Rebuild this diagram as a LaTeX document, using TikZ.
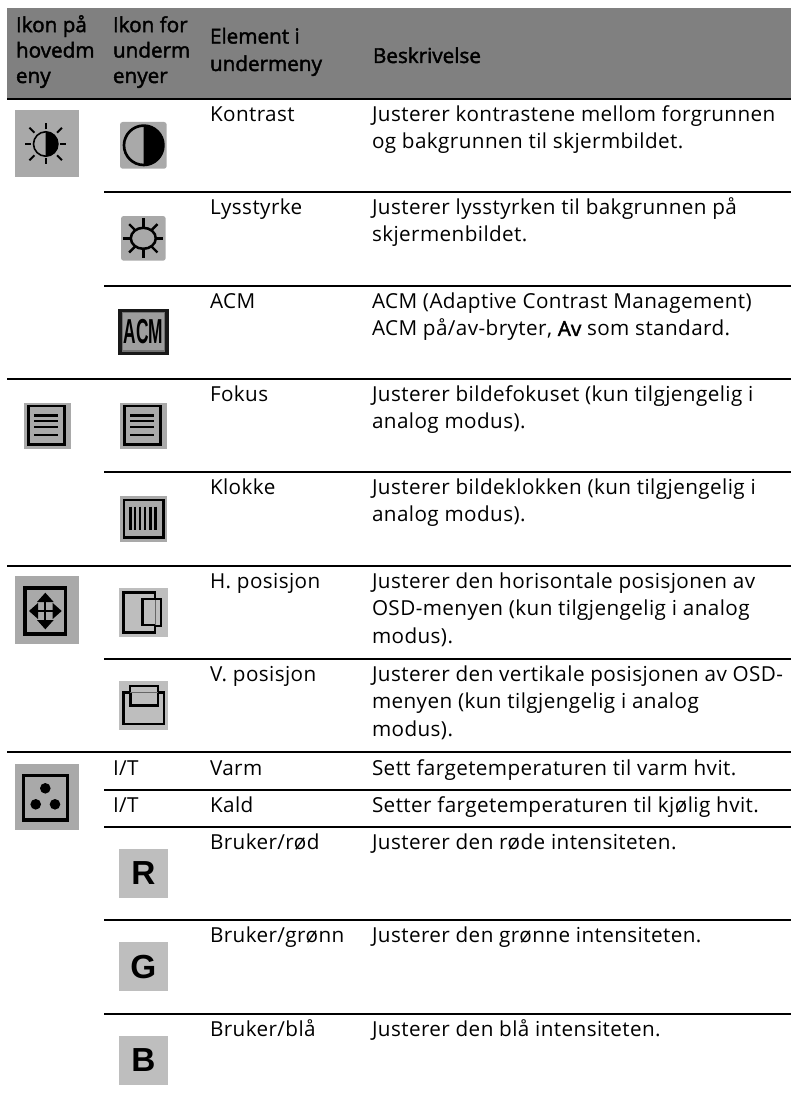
\documentclass[tikz,border=0pt]{standalone}
\usepackage{fontspec}
\setmainfont{Open Sans}[LetterSpace=2]
\newfontfamily\iconfont{Liberation Sans}[BoldFont={Liberation Sans Bold}]
\newfontfamily\fakeb{Open Sans}[FakeBold=2]
\tikzset{
  rule/.style={line width=1.6pt,black,line cap=butt},
  cell/.style={anchor=base west,inner sep=0pt,outer sep=0pt,yshift=-0.5pt,font=\fontsize{15.5}{20.5}\selectfont,align=left,text=black},
  head/.style={anchor=base west,inner sep=0pt,outer sep=0pt,font=\fakeb\fontsize{15.5}{19.1}\selectfont,align=left,text=black},
  darkicon/.style={fill=iconA,draw=none},
  lighticon/.style={fill=iconB,draw=none},
  ink/.style={draw=black,line width=2.1pt,fill=none},
  letter/.style={inner sep=0pt,font=\iconfont\bfseries\fontsize{25}{25}\selectfont},
}
\definecolor{iconA}{HTML}{A9A9A9}
\definecolor{iconB}{HTML}{BEBEBE}
\definecolor{headbg}{HTML}{808080}
\begin{document}
\begin{tikzpicture}[x=0.75pt,y=-0.75pt]
\useasboundingbox (0,0) rectangle (791,1102);
% header
\fill[headbg] (7,8) rectangle (791,98);
\node[head] (h1) at (16,83) {Ikon på\\hovedm\\eny};
\node[head] (h2) at (113,83) {Ikon for\\underm\\enyer};
\node[head,font=\fakeb\fontsize{15.5}{20.6}\selectfont] (h3) at (210,71) {Element i\\undermeny};
\node[head] (h4) at (373,63) {Beskrivelse};
% rules
\foreach \yy in {98.7,379,566,752} \draw[rule] (7,\yy) -- (791,\yy);
\foreach \yy in {192,286,472,659,790,826.7,920,1014} \draw[rule] (104,\yy) -- (791,\yy);
% text
\node[cell] (a1) at (210,120.7) {Kontrast};
\node[cell] (d1) at (372,148) {Justerer kontrastene mellom forgrunnen\\og bakgrunnen til skjermbildet.};
\node[cell] (a2) at (210,214) {Lysstyrke};
\node[cell] (d2) at (372,241.3) {Justerer lysstyrken til bakgrunnen på\\skjermenbildet.};
\node[cell] (a3) at (210,308) {ACM};
\node[cell] (d3) at (372,335.3) {ACM (Adaptive Contrast Management)\\ACM på/av-bryter, {\fakeb Av} som standard.};
\node[cell] (a4) at (210,401) {Fokus};
\node[cell] (d4) at (372,428.3) {Justerer bildefokuset (kun tilgjengelig i\\analog modus).};
\node[cell] (a5) at (210,494) {Klokke};
\node[cell] (d5) at (372,521.3) {Justerer bildeklokken (kun tilgjengelig i\\analog modus).};
\node[cell] (a6) at (210,588) {H. posisjon};
\node[cell] (d6) at (372,642.6) {Justerer den horisontale posisjonen av\\OSD-menyen (kun tilgjengelig i analog\\modus).};
\node[cell] (a7) at (210,681) {V. posisjon};
\node[cell] (d7) at (372,735.6) {Justerer den vertikale posisjonen av OSD-\\menyen (kun tilgjengelig i analog\\modus).};
\node[cell] (i8) at (113,775) {I/T};
\node[cell] (a8) at (210,775) {Varm};
\node[cell] (d8) at (372,775) {Sett fargetemperaturen til varm hvit.};
\node[cell] (i9) at (113,812) {I/T};
\node[cell] (a9) at (210,812) {Kald};
\node[cell] (d9) at (372,812) {Setter fargetemperaturen til kjølig hvit.};
\node[cell] (a10) at (210,849) {Bruker/rød};
\node[cell] (d10) at (372,849) {Justerer den røde intensiteten.};
\node[cell] (a11) at (210,942) {Bruker/grønn};
\node[cell] (d11) at (372,942) {Justerer den grønne intensiteten.};
\node[cell] (a12) at (210,1036) {Bruker/blå};
\node[cell] (d12) at (372,1036) {Justerer den blå intensiteten.};
% icon: main sun
\fill[darkicon] (15,110) rectangle (79,176.7);
\fill (45.7,144) ++(-90:12.5) arc (-90:90:12.5) -- cycle;
\draw[line width=1.2pt] (45.7,144) circle (12.2);
\foreach \a in {0,90,180,270} \draw[line width=1.5pt] (45.7,144) ++(\a:14.5) -- ++(\a:6);
\foreach \a in {45,135,225,315} \draw[line width=1.5pt] (45.7,144) ++(\a:16) -- ++(\a:7);
% contrast
\fill[darkicon,rounded corners=2pt] (120,122) rectangle (166.7,168.7);
\fill (143.7,145.3) ++(-90:20) arc (-90:90:20) -- cycle;
\draw[line width=2pt] (143.7,145.3) circle (19.7);
% brightness
\fill[darkicon,rounded corners=2pt] (121,216) rectangle (165.7,260.7);
\draw[line width=1.9pt] (143.3,238.3) ellipse (12.5 and 10.5);
\foreach \a in {0,45,...,315} \draw[line width=1.8pt] (143.3,238.3) ++(\a:11.5) -- ++(\a:8.5);
% ACM
\fill[black!90] (118,309) rectangle (169,355);
\fill[black!55] (122,312) rectangle (165,352);
\fill[black!38] (123,313) rectangle (164,349.5);
\node[inner sep=0pt,font=\iconfont\bfseries\fontsize{26}{26}\selectfont,xscale=0.5,text=black] (acm) at (143.5,332) {ACM};
% focus
\foreach \xx in {24,120}{
  \fill[darkicon] (\xx,402.7) rectangle (\xx+46.5,449);
  \draw[ink] (\xx+4.4,406) rectangle (\xx+40.8,444.8);
  \foreach \yy in {415.3,420.9,426.7,434.7} \draw[line width=1.8pt] (\xx+10.4,\yy) -- (\xx+34.3,\yy);
}
% clock
\fill[darkicon] (120,496) rectangle (166.7,541.7);
\draw[ink] (124,500) rectangle (163.3,537.5);
\foreach \xx in {130.5,135.3,140,144.7,150.5,155.5} \draw[line width=1.6pt] (\xx,506.7) -- (\xx,530);
% main position
\fill[darkicon] (15,576) rectangle (79,644);
\draw[ink,line width=2.4pt] (25,588) rectangle (65.7,634);
\draw[line width=1.3pt] (32,611) -- (58,611) (45.3,596) -- (45.3,626);
\fill (29,611) -- (38,603) -- (38,619) -- cycle;
\fill (61.7,611) -- (52.7,603) -- (52.7,619) -- cycle;
\fill (45.3,592.7) -- (37,602) -- (53.7,602) -- cycle;
\fill (45.3,629.3) -- (37,620) -- (53.7,620) -- cycle;
% H position
\fill[lighticon] (119,588.3) rectangle (168.3,637);
\draw[ink] (155,599) -- (155,592.3) -- (123.6,592.3) -- (123.6,632.2) -- (155,632.2) -- (155,625);
\draw[line width=0.7pt,black!60] (155,600) -- (155,625);
\draw[ink] (155,599) -- (142.6,599) -- (142.6,625) -- (155,625);
\draw[line width=1.5pt] (155,598.5) -- (161.3,598.5) -- (161.3,625.5) -- (155,625.5);
% V position
\fill[lighticon] (119,681) rectangle (168.3,730);
\draw[ink] (130.2,692.3) -- (123.6,692.3) -- (123.6,724) -- (164,724) -- (164,692.3) -- (158,692.3);
\draw[line width=0.7pt,black!60] (130.2,692.3) -- (158,692.3);
\draw[ink] (130.2,693) -- (130.2,705.5) -- (158,705.5) -- (158,693);
\draw[line width=1.5pt] (130.2,692.3) -- (130.2,685.5) -- (158,685.5) -- (158,692.3);
% colour main
\fill[darkicon] (15,764) rectangle (79,830);
\draw[ink,line width=2.4pt] (23.5,775.5) rectangle (67.5,820);
\foreach \cx/\cy in {45.3/788.3,35.7/804.3,55/804.3} \fill (\cx,\cy) circle (5.3);
% letters
\fill[lighticon] (119,849) rectangle (168,897.7);
\node[letter] (lr) at (143.3,873) {R};
\fill[lighticon] (119,942) rectangle (168,990.7);
\node[letter] (lg) at (143.3,966.7) {G};
\fill[lighticon] (119,1036) rectangle (168,1084.7);
\node[letter] (lb) at (143.3,1060) {B};
\end{tikzpicture}
\end{document}
